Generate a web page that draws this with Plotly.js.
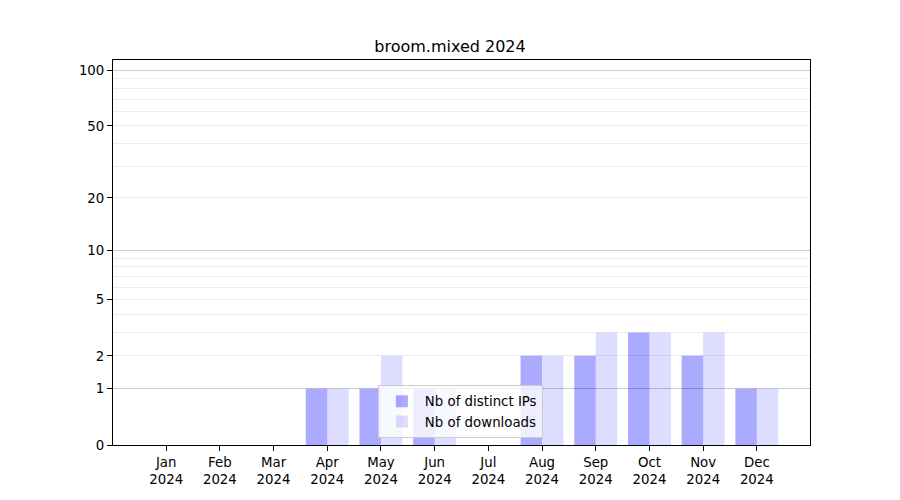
<!DOCTYPE html>
<html><head><meta charset="utf-8">
<script src="https://cdn.plot.ly/plotly-3.0.1.min.js"></script>
<style>body{margin:0;background:#fff}#chart{width:900px;height:500px}</style>
</head><body><div id="chart"></div>
<script>
const months = ["Jan","Feb","Mar","Apr","May","Jun","Jul","Aug","Sep","Oct","Nov","Dec"];
const year = "2024";
const distinctIPs = [0,0,0,1,1,1,0,2,2,3,2,1];
const downloads   = [0,0,0,1,2,1,0,2,3,3,3,1];
const yTickValues = [0,1,2,5,10,20,50,100];
const yMajorGrid = [1,10,100];
const yMinorGrid = [2,3,4,5,6,7,8,9,20,30,40,50,60,70,80,90];

const cats = months.map(m => m + "<br>" + year);
const shift = v => v + 1; // log(1+x) axis

const font = {family: "DejaVu Sans, sans-serif", size: 13.33, color: "#000"};
const traces = [
  {type: "bar", name: "Nb of distinct IPs", x: cats, y: distinctIPs, base: 1,
   marker: {color: "rgba(0,0,255,0.333)", line: {width: 0}}, xaxis: "x", yaxis: "y"},
  {type: "bar", name: "Nb of downloads", x: cats, y: downloads, base: 1,
   marker: {color: "rgba(0,0,255,0.133)", line: {width: 0}}, xaxis: "x", yaxis: "y"}
];
const yr = [0, 2.06];
const layout = {
  width: 900, height: 500,
  margin: {l: 113, r: 90, t: 60, b: 55},
  paper_bgcolor: "#fff", plot_bgcolor: "rgba(0,0,0,0)",
  font: font,
  title: {text: "broom.mixed 2024", x: 0.5, xanchor: "center", y: 1 - 46/500, yanchor: "middle",
          font: {family: "DejaVu Sans, sans-serif", size: 16, color: "#000"}},
  barmode: "group", bargap: 0.2, bargroupgap: 0,
  showlegend: true,
  legend: {x: 0.38, xanchor: "left", y: 0.018, yanchor: "bottom",
           bgcolor: "rgba(255,255,255,0.8)", bordercolor: "#cccccc", borderwidth: 1,
           font: {family: "DejaVu Sans, sans-serif", size: 13.33, color: "#000"},
           itemwidth: 36, tracegroupgap: 2},
  xaxis: {type: "category", range: [-0.99, 11.99], showgrid: false, zeroline: false,
          ticks: "outside", ticklen: 5, tickwidth: 1, tickcolor: "#000",
          showline: true, linecolor: "#000", linewidth: 1, mirror: true,
          tickfont: font, automargin: false},
  yaxis: {type: "log", range: yr, showgrid: false, zeroline: false,
          tickmode: "array", tickvals: yTickValues.map(shift), ticktext: yTickValues.map(String),
          ticks: "outside", ticklen: 5, tickwidth: 1, tickcolor: "#000",
          showline: true, linecolor: "#000", linewidth: 1, mirror: true,
          tickfont: font, automargin: false,
          minor: {tickmode: "array", tickvals: yMinorGrid.map(shift), showgrid: true,
                  gridcolor: "#ececec", gridwidth: 1, ticks: ""}},
  yaxis2: {type: "log", range: yr, overlaying: "y", side: "left", showgrid: true,
           gridcolor: "#cbcbcb", gridwidth: 1, zeroline: false, showticklabels: false,
           tickmode: "array", tickvals: yMajorGrid.map(shift), ticks: "", showline: false},
};
traces.push({type: "scatter", x: [cats[0]], y: [1], yaxis: "y2", xaxis: "x", mode: "markers",
             marker: {opacity: 0}, showlegend: false, hoverinfo: "skip"});
Plotly.newPlot("chart", traces, layout, {staticPlot: true});
</script></body></html>
